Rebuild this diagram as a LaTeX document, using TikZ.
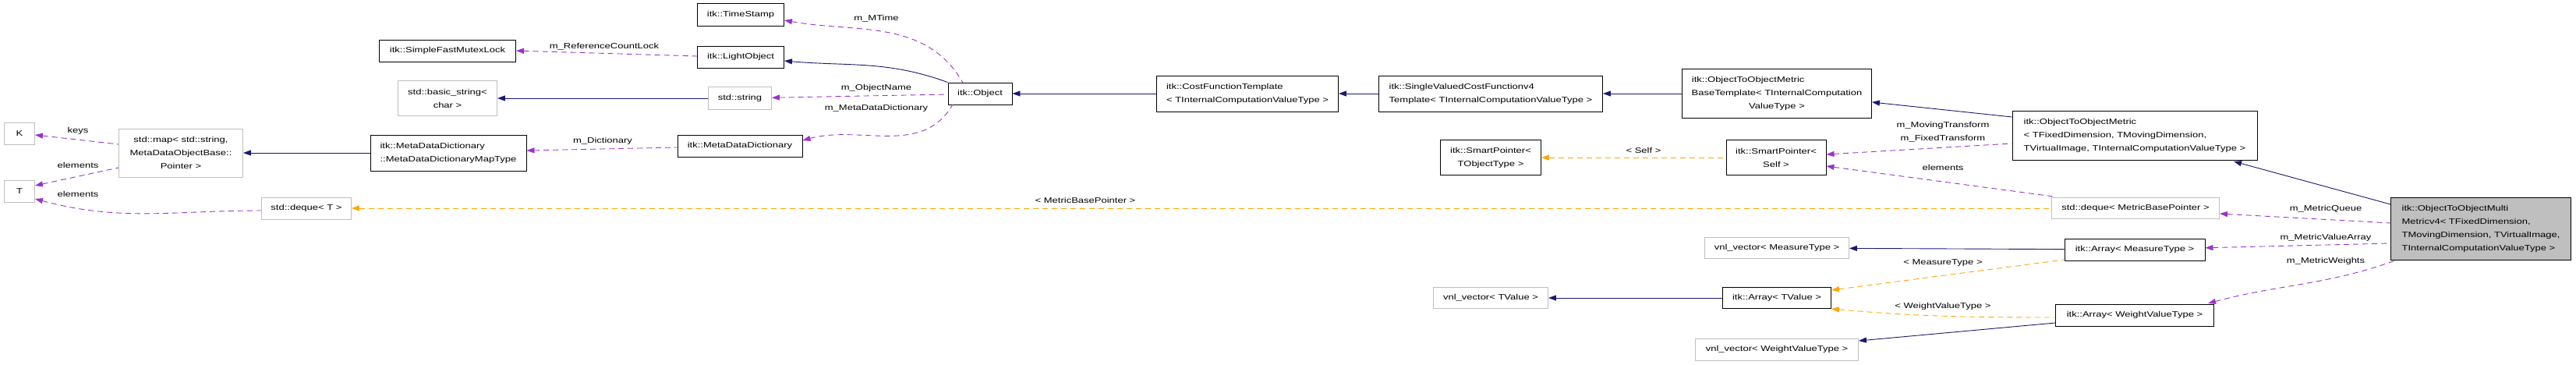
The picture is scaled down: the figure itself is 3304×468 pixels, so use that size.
\documentclass[tikz,border=0pt]{standalone}
\usepackage{fontspec}
\setmainfont{Liberation Sans}[FakeStretch=1.3]
\usetikzlibrary{arrows.meta,positioning}
\definecolor{inhcol}{HTML}{191970}
\definecolor{usecol}{HTML}{9A32CD}
\definecolor{tplcol}{HTML}{FFA500}
\definecolor{undoc}{HTML}{BFBFBF}
\tikzset{
  cls/.style={rectangle, draw=black, line width=0.9pt, inner sep=3pt, font=\fontsize{10}{17}\selectfont},
  ext/.style={cls, draw=undoc},
  inh/.style={{Triangle[length=10pt,width=7pt]}-, draw=inhcol, line width=0.9pt},
  use/.style={{Triangle[length=10pt,width=7pt]}-, draw=usecol, line width=0.9pt, dash pattern=on 7pt off 5pt},
  tpl/.style={use, draw=tplcol},
  lbl/.style={font=\fontsize{10}{17}\selectfont, align=center}
}
\begin{document}
\begin{tikzpicture}[x=1pt,y=-1pt]
        \useasboundingbox (0,0) rectangle (3304,468);
        % classes
        \node[ext, minimum width=39, minimum height=28] at (25,171) (K) {K};
        \node[ext, minimum width=39, minimum height=28] at (25,245) (T) {T};
        \node[ext, minimum width=159, minimum height=62, align=center] at (232,196) (stdmap) {std::map< std::string,\\ MetaDataObjectBase::\\Pointer >};
        \node[ext, minimum width=115, minimum height=28] at (393,267) (dequeT) {std::deque< T >};
        \node[cls, minimum width=175, minimum height=28] at (574,65) (mutex) {itk::SimpleFastMutexLock};
        \node[ext, minimum width=127, minimum height=45, align=center] at (574,126) (bstring) {std::basic\_string<\\char >};
        \node[cls, minimum width=200, minimum height=46, align=left] at (575,196) (maptype) {itk::MetaDataDictionary\\::MetaDataDictionaryMapType};
        \node[cls, minimum width=111, minimum height=29] at (950,19) (stamp) {itk::TimeStamp};
        \node[cls, minimum width=111, minimum height=28] at (950,73) (light) {itk::LightObject};
        \node[ext, minimum width=81, minimum height=29] at (949,126) (string) {std::string};
        \node[cls, minimum width=160, minimum height=28] at (949,187) (dict) {itk::MetaDataDictionary};
        \node[cls, minimum width=82, minimum height=28] at (1257,120) (object) {itk::Object};
        \node[cls, minimum width=233, minimum height=46, align=left] at (1600,120) (costfn) {itk::CostFunctionTemplate\\< TInternalComputationValueType >};
        \node[cls, minimum width=287, minimum height=46, align=left] at (1912,120) (svcf) {itk::SingleValuedCostFunctionv4\\Template< TInternalComputationValueType >};
        \node[cls, minimum width=243, minimum height=63, align=center] at (2279,120) (metricbase) {itk::ObjectToObjectMetric\hphantom{Computation}\\BaseTemplate< TInternalComputation\\ValueType >};
        \node[cls, minimum width=129, minimum height=45, align=center] at (1912,202) (sptobj) {itk::SmartPointer<\\TObjectType >};
        \node[cls, minimum width=128, minimum height=45, align=center] at (2278,202) (sptself) {itk::SmartPointer<\\Self >};
        \node[cls, minimum width=314, minimum height=63, align=left] at (2738,174) (metric) {itk::ObjectToObjectMetric\\< TFixedDimension, TMovingDimension,\\ TVirtualImage, TInternalComputationValueType >};
        \node[ext, minimum width=215, minimum height=27] at (2739,267) (dequeM) {std::deque< MetricBasePointer >};
        \node[ext, minimum width=185, minimum height=27] at (2279,318) (vnlmeas) {vnl\_vector< MeasureType >};
        \node[cls, minimum width=180, minimum height=28] at (2738,320) (arrmeas) {itk::Array< MeasureType >};
        \node[ext, minimum width=147, minimum height=27] at (1912,382) (vnlval) {vnl\_vector< TValue >};
        \node[cls, minimum width=139, minimum height=27] at (2279,382) (arrval) {itk::Array< TValue >};
        \node[cls, minimum width=203, minimum height=28] at (2738,404) (arrweight) {itk::Array< WeightValueType >};
        \node[ext, minimum width=209, minimum height=28] at (2279,448) (vnlweight) {vnl\_vector< WeightValueType >};
        \node[cls, fill=undoc, minimum width=231, minimum height=80, align=left] at (3182,293) (multi) {itk::ObjectToObjectMulti\\Metricv4< TFixedDimension,\\ TMovingDimension, TVirtualImage,\\ TInternalComputationValueType >};
        % inheritance
        \draw[inh] (light.east |- 0,78) to[out=-5,in=160] (object.north west);
        \draw[inh] (bstring) -- (string);
        \draw[inh] (stdmap) -- (maptype);
        \draw[inh] (object) -- (costfn);
        \draw[inh] (costfn) -- (svcf);
        \draw[inh] (svcf) -- (metricbase);
        \draw[inh] (metricbase.east |- 0,131) -- (metric.west |- 0,150);
        \draw[inh] (2865,207) -- (multi.west |- 0,262);
        \draw[inh] (vnlmeas) -- (arrmeas);
        \draw[inh] (vnlval) -- (arrval);
        \draw[inh] (vnlweight.east |- 0,437) -- (arrweight.west |- 0,414);
        % members
        \draw[use] (stamp.east |- 0,26) to[out=-10,in=120] (1235,106);
        \draw[use] (mutex.east) -- (light.west |- 0,72);
        \draw[use] (string) -- (object.west |- 0,121);
        \draw[use] (dict.east |- 0,180) to[out=15,in=-120] (1222,134);
        \draw[use] (maptype.east |- 0,193) -- (dict.west |- 0,189);
        \draw[use] (K.east |- 0,173) -- (stdmap.west |- 0,185);
        \draw[use] (T.east |- 0,238) -- (stdmap.west |- 0,215);
        \draw[use] (T.east |- 0,255) to[out=-15,in=180] (dequeT.west |- 0,270);
        \draw[use] (sptself.east |- 0,198) -- (metric.west |- 0,184);
        \draw[use] (sptself.east |- 0,213) -- (2634,252);
        \draw[use] (dequeM.east |- 0,274) -- (multi.west |- 0,286);
        \draw[use] (arrmeas) -- (multi.west |- 0,312);
        \draw[use] (2832,389) to[out=15,in=-160] (3075,333);
        % template instances
        \draw[tpl] (sptobj) -- (sptself);
        \draw[tpl] (dequeT) -- (dequeM);
        \draw[tpl] (arrval.east |- 0,372) -- (arrmeas.west |- 0,333);
        \draw[tpl] (arrval.east |- 0,396) to[out=-5,in=180] (arrweight.west |- 0,407);
        % labels
        \node[lbl] at (1124,24) (lmtime) {m\_MTime};
        \node[lbl] at (775,60) (lrefcount) {m\_ReferenceCountLock};
        \node[lbl] at (1124,113) (lobjname) {m\_ObjectName};
        \node[lbl] at (1124,139) (lmetadict) {m\_MetaDataDictionary};
        \node[lbl] at (773,181) (ldict) {m\_Dictionary};
        \node[lbl] at (100,168) (lkeys) {keys};
        \node[lbl] at (100,212) (lelemmap) {elements};
        \node[lbl] at (100,249) (lelemdeque) {elements};
        \node[lbl] at (2492,169) (ltransform) {m\_MovingTransform\\m\_FixedTransform};
        \node[lbl] at (2492,215) (lelemself) {elements};
        \node[lbl] at (2983,268) (lqueue) {m\_MetricQueue};
        \node[lbl] at (2983,305) (lvalarr) {m\_MetricValueArray};
        \node[lbl] at (2983,335) (lweights) {m\_MetricWeights};
        \node[lbl] at (2108,193) (lself) {< Self >};
        \node[lbl] at (1392,257) (lmbp) {< MetricBasePointer >};
        \node[lbl] at (2492,337) (lmeas) {< MeasureType >};
        \node[lbl] at (2492,393) (lweight) {< WeightValueType >};
      \end{tikzpicture}
\end{document}
